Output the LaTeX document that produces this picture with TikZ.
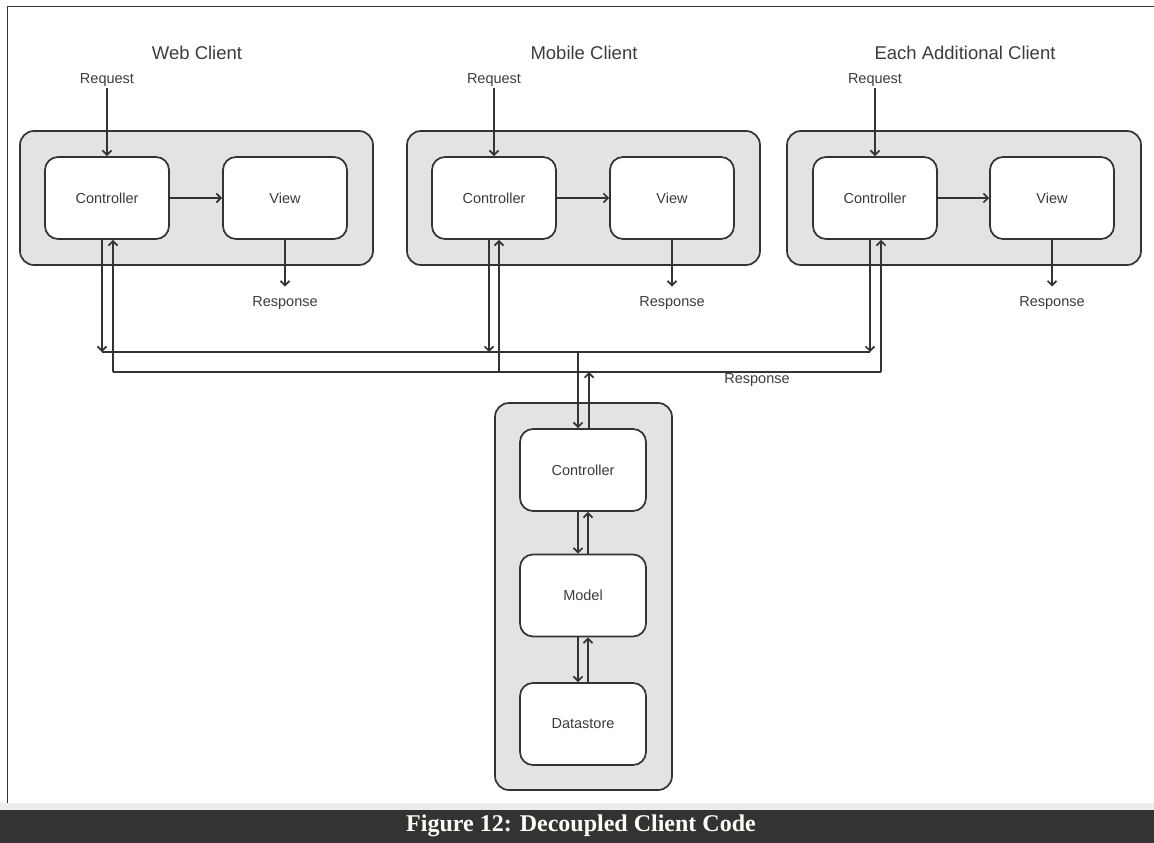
\documentclass[tikz,border=0pt]{standalone}
\usepackage{fontspec}
\setmainfont{Liberation Sans}
\newfontfamily\capfont{Liberation Serif}
\usetikzlibrary{arrows.meta}
\definecolor{linec}{HTML}{333333}
\definecolor{boxfill}{HTML}{E3E3E3}
\definecolor{txtc}{HTML}{3C3C3C}
\definecolor{bandl}{HTML}{ECECEC}
\definecolor{bandd}{HTML}{333333}
\definecolor{capc}{HTML}{FFFDF5}
\tikzset{
  outerbox/.style={draw=linec, fill=boxfill, line width=1.7pt, rounded corners=14pt, inner sep=0pt},
  innerbox/.style={draw=linec, fill=white, line width=1.7pt, rounded corners=13pt, inner sep=0pt,
    minimum width=124pt, minimum height=82pt, text=txtc, font=\fontsize{14.5}{16}\selectfont},
  lbl/.style={text=txtc, font=\fontsize{14.5}{16}\selectfont, inner sep=0pt, outer sep=0pt},
  ttl/.style={text=txtc, font=\fontsize{18.5}{20}\selectfont, inner sep=0pt},
  conn/.style={draw=linec, line width=1.7pt},
  arr/.style={conn, -{Straight Barb[length=4.5pt,width=9pt]}},
}
\begin{document}
\begin{tikzpicture}[x=1pt,y=-1pt]
\useasboundingbox (0,0) rectangle (1154,843);
% frame and bottom bands
\fill[bandl] (0,803) rectangle (1154,810);
\fill[bandd] (0,810) rectangle (1154,843);
\draw[linec, line width=1.5pt] (7.5,803) -- (7.5,6.5) -- (1154,6.5);
\node[text=capc, font=\capfont\bfseries\fontsize{24}{26}\selectfont, inner sep=0pt] (caption) at (581,826) {Figure 12: Decoupled Client Code};

% client containers
\node[outerbox, minimum width=353pt, minimum height=134pt] (outA) at (196.5,198) {};
\node[outerbox, minimum width=353pt, minimum height=134pt] (outB) at (583.5,198) {};
\node[outerbox, minimum width=354pt, minimum height=134pt] (outC) at (964,198) {};

% titles
\node[ttl] (ttlA) at (197,53) {Web Client};
\node[ttl] (ttlB) at (584,53) {Mobile Client};
\node[ttl] (ttlC) at (965,53) {Each Additional Client};

% client controllers and views
\node[innerbox] (ctrlA) at (107,198) {Controller};
\node[innerbox] (viewA) at (285,198) {View};
\node[innerbox] (ctrlB) at (494,198) {Controller};
\node[innerbox] (viewB) at (672,198) {View};
\node[innerbox] (ctrlC) at (875,198) {Controller};
\node[innerbox] (viewC) at (1052,198) {View};

% request / response labels
\node[lbl] (reqA) at (107,80) {Request};
\node[lbl] (reqB) at (494,80) {Request};
\node[lbl] (reqC) at (875,80) {Request};
\node[lbl] (respA) at (285,303) {Response};
\node[lbl] (respB) at (672,303) {Response};
\node[lbl] (respC) at (1052,303) {Response};
\node[lbl] (respS) at (757,380) {Response};

% arrows inside clients
\foreach \c in {A,B,C}{
  \draw[arr] ([yshift=-2pt]req\c.south) -- (ctrl\c.north);
  \draw[arr] (ctrl\c.east) -- (view\c.west);
  \draw[arr, shorten >=10pt] (view\c.south) -- (resp\c.north);
}

% server container
\node[outerbox, minimum width=177pt, minimum height=387pt] (outS) at (583.5,596.5) {};
\node[innerbox, minimum width=126pt] (sctrl) at (583,470) {Controller};
\node[innerbox, minimum width=126pt] (model) at (583,595.5) {Model};
\node[innerbox, minimum width=126pt] (store) at (583,724) {Datastore};

% bus coordinates
\coordinate (tA) at (102,352);
\coordinate (tB) at (489,352);
\coordinate (tC) at (870,352);
\coordinate (tS) at (578,352);
\coordinate (uA) at (113,372);
\coordinate (uB) at (499,372);
\coordinate (uC) at (881,372);
\coordinate (uS) at (589,372);
\coordinate (dS) at (578,500);
\coordinate (eS) at (588,500);

% upper bus: requests down to the server
\draw[conn] (tA) -- (tC);
\draw[arr] (tA |- ctrlA.south) -- (tA);
\draw[arr] (tB |- ctrlB.south) -- (tB);
\draw[arr] (tC |- ctrlC.south) -- (tC);
\draw[arr] (tS) -- (tS |- sctrl.north);

% lower bus: responses back up to the clients
\draw[conn] (uA) -- (uC);
\draw[arr] (uA) -- (uA |- ctrlA.south);
\draw[arr] (uB) -- (uB |- ctrlB.south);
\draw[arr] (uC) -- (uC |- ctrlC.south);
\draw[arr] (uS |- sctrl.north) -- (uS);

% server internal arrows
\draw[arr] (dS |- sctrl.south) -- (dS |- model.north);
\draw[arr] (eS |- model.north) -- (eS |- sctrl.south);
\draw[arr] (dS |- model.south) -- (dS |- store.north);
\draw[arr] (eS |- store.north) -- (eS |- model.south);
\end{tikzpicture}
\end{document}
